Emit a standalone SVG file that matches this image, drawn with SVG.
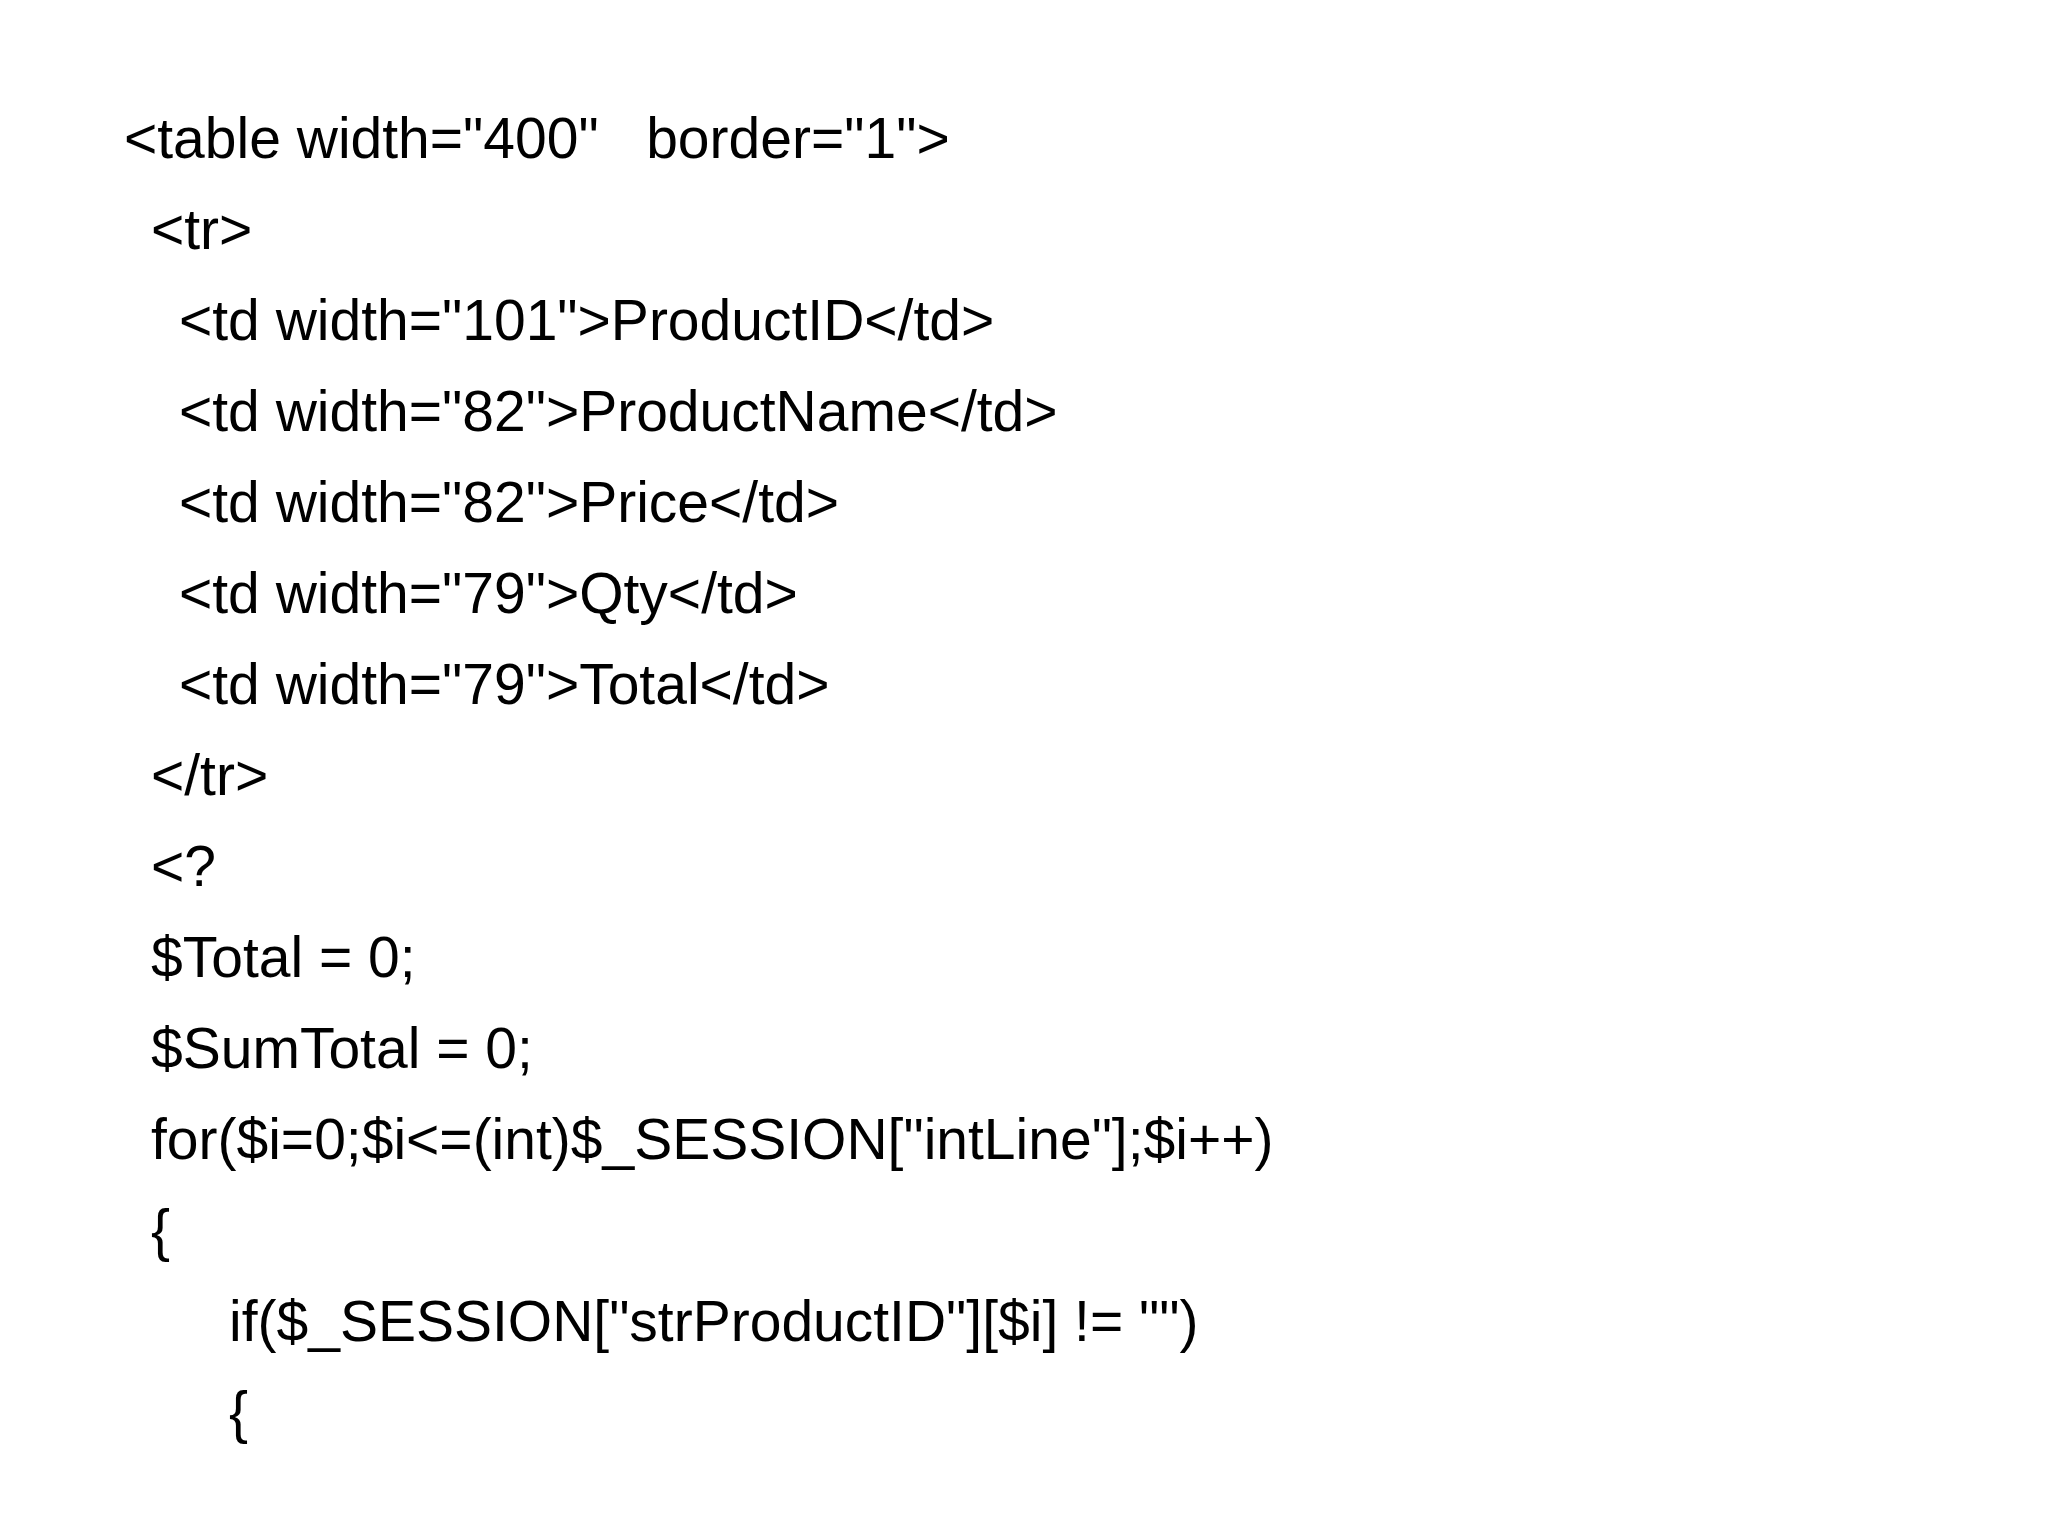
<svg xmlns="http://www.w3.org/2000/svg" width="2048" height="1536" viewBox="0 0 2048 1536">
<style>text{font-family:"Liberation Sans","Noto Sans",sans-serif;font-size:57px;fill:#000;white-space:pre}</style>
<rect width="2048" height="1536" fill="#fff"/>
<g id="code">
<text x="124" y="158">&lt;table width="400"   border="1"&gt;</text>
<text x="151" y="249">&lt;tr&gt;</text>
<text x="179" y="340">&lt;td width="101"&gt;ProductID&lt;/td&gt;</text>
<text x="179" y="431">&lt;td width="82"&gt;ProductName&lt;/td&gt;</text>
<text x="179" y="522">&lt;td width="82"&gt;Price&lt;/td&gt;</text>
<text x="179" y="613">&lt;td width="79"&gt;Qty&lt;/td&gt;</text>
<text x="179" y="704">&lt;td width="79"&gt;Total&lt;/td&gt;</text>
<text x="151" y="795">&lt;/tr&gt;</text>
<text x="151" y="886">&lt;?</text>
<text x="151" y="977">$Total = 0;</text>
<text x="151" y="1068">$SumTotal = 0;</text>
<text x="151" y="1159">for($i=0;$i&lt;=(int)$_SESSION["intLine"];$i++)</text>
<text x="151" y="1250">{</text>
<text x="229" y="1341">if($_SESSION["strProductID"][$i] != "")</text>
<text x="229" y="1432">{</text>
</g>
</svg>
